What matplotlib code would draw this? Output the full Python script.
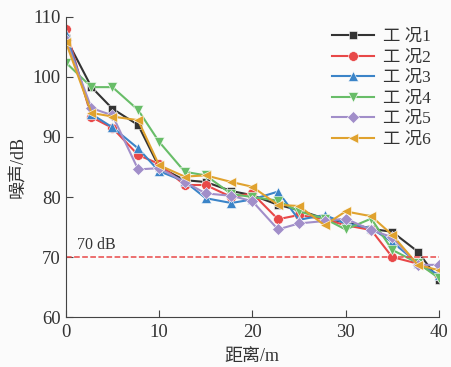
import numpy as np
import matplotlib
matplotlib.use("Agg")
import matplotlib.pyplot as plt

plt.rcParams['font.family'] = ['Liberation Serif', 'Noto Sans CJK SC']
plt.rcParams['axes.unicode_minus'] = False

# distance (m)
dist = [0, 2.75, 5, 7.75, 10, 12.75, 15, 17.75, 20, 22.75, 25, 27.75, 30, 32.75, 35, 37.75, 40]

# noise (dB) for each case
case1 = [106.5, 98.3, 94.7, 92.0, 85.0, 82.8, 82.5, 81.0, 80.3, 78.7, 77.8, 76.4, 75.8, 74.7, 74.2, 70.9, 66.2]
case2 = [108.0, 93.3, 91.5, 87.0, 85.5, 82.0, 82.0, 80.0, 80.6, 76.3, 77.0, 76.3, 75.3, 74.5, 70.0, 68.9, 66.8]
case3 = [107.2, 93.8, 91.6, 88.1, 84.3, 82.6, 79.8, 79.0, 79.6, 80.9, 76.2, 77.0, 75.6, 74.8, 72.5, 69.0, 67.0]
case4 = [102.4, 98.3, 98.3, 94.5, 89.2, 84.2, 83.6, 80.5, 80.0, 79.4, 77.6, 76.4, 74.6, 76.4, 71.2, 69.0, 66.5]
case5 = [106.2, 94.8, 93.6, 84.6, 84.8, 82.5, 80.6, 80.2, 79.3, 74.6, 75.6, 76.0, 76.4, 74.5, 73.3, 68.7, 68.7]
case6 = [105.8, 94.0, 93.4, 92.8, 85.3, 83.4, 83.6, 82.5, 81.7, 78.7, 78.5, 75.3, 77.6, 76.8, 73.7, 68.7, 67.8]

labels = ['工 况1', '工 况2', '工 况3', '工 况4', '工 况5', '工 况6']
limit = 70

series = [case1, case2, case3, case4, case5, case6]
colors = ['#333333', '#e84848', '#3b84c8', '#68bd68', '#a18ec9', '#e0a22e']
markers = ['s', 'o', '^', 'v', 'D', '<']
msizes = [6, 7, 7, 7, 6, 7]

fig = plt.figure(figsize=(4.51, 3.67), dpi=100, facecolor='#fbfbfb')
ax = fig.add_axes([0.146, 0.136, 0.827, 0.818])
ax.set_facecolor('#fbfbfb')

for y, c, m, ms, lab in zip(series, colors, markers, msizes, labels):
    ax.plot(dist, y, color=c, marker=m, markersize=ms, lw=1.5,
            markeredgecolor='white', markeredgewidth=0.4, label=lab)

ax.plot([0, 40], [limit, limit], color='#e84848', ls='--', lw=1.1)
ax.text(1.2, limit + 0.6, '70 dB', fontsize=11.5, color='#333333', va='bottom')

ax.set_xlim(0, 40)
ax.set_ylim(60, 110)
ax.set_xticks([0, 10, 20, 30, 40])
ax.set_yticks([60, 70, 80, 90, 100, 110])
ax.spines['top'].set_visible(False)
ax.spines['right'].set_visible(False)
ax.spines['left'].set_color('#444444')
ax.spines['bottom'].set_color('#444444')
ax.tick_params(direction='in', length=5, labelsize=13.5, colors='#444444', labelcolor='#333333')
ax.tick_params(axis='x', pad=5)

ax.set_xlabel('距离/m', fontsize=13, color='#333333', labelpad=5)
ax.set_ylabel('噪声/dB', fontsize=13, color='#333333', labelpad=4)

leg = ax.legend(loc='upper right', bbox_to_anchor=(1.01, 1.0), frameon=False, fontsize=12.5,
                handlelength=2.4, labelspacing=0.25, handletextpad=0.5, borderaxespad=0.3)
for t in leg.get_texts():
    t.set_color('#333333')

fig.savefig('out.png', dpi=100, facecolor=fig.get_facecolor())
